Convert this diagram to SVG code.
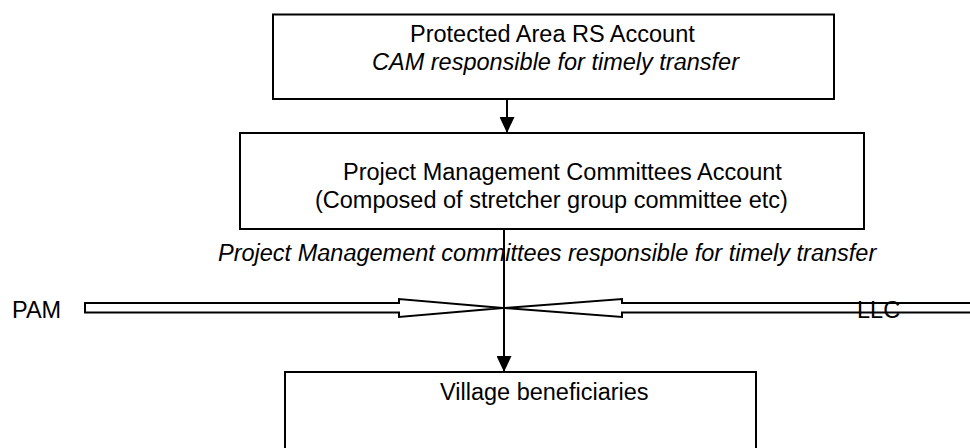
<svg xmlns="http://www.w3.org/2000/svg" width="970" height="448" viewBox="0 0 970 448">
<style>
.box{fill:#fff;stroke:#000;stroke-width:2}
.t{font-family:"Liberation Sans",Arial,sans-serif;font-size:23.5px;fill:#000}
.i{font-style:italic}
.ln{stroke:#000;stroke-width:2;fill:none}
.blk{fill:none;stroke:#000;stroke-width:2}
</style>
<defs>
<marker id="ah" markerWidth="16" markerHeight="15" refX="16" refY="7.5" orient="auto" markerUnits="userSpaceOnUse">
<path d="M0,0 L16,7.5 L0,15 Z" fill="#000"/>
</marker>
</defs>
<rect width="970" height="448" fill="#fff"/>
<g id="n-pa">
<rect class="box" x="273" y="14.5" width="561" height="84.5"/>
<text class="t" x="410" y="42">Protected Area RS Account</text>
<text class="t i" x="372" y="70">CAM responsible for timely transfer</text>
</g>
<g id="n-pmc">
<rect class="box" x="240" y="133" width="624" height="96"/>
<text class="t" x="343" y="180">Project Management Committees Account</text>
<text class="t" x="315" y="207.5">(Composed of stretcher group committee etc)</text>
</g>
<g id="n-pmc-note">
<text class="t i" x="218" y="261">Project Management committees responsible for timely transfer</text>
</g>
<g id="n-village">
<rect class="box" x="285" y="372" width="471" height="90"/>
<text class="t" x="440" y="400">Village beneficiaries</text>
</g>
<g id="connectors">
<line class="ln" x1="507" y1="99" x2="507" y2="133" marker-end="url(#ah)"/>
<line class="ln" x1="504" y1="229" x2="504" y2="372" marker-end="url(#ah)"/>
<path class="blk" d="M85,303 L399,303 L399,299 L503,308 L399,317 L399,312.5 L85,312.5 Z"/>
<path class="blk" d="M975,303 L622,303 L622,299 L505,308 L622,317 L622,312.5 L975,312.5 Z"/>
</g>
<g id="n-pam">
<text class="t" x="12" y="318">PAM</text>
</g>
<g id="n-llc">
<text class="t" x="857" y="318">LLC</text>
</g>
</svg>
